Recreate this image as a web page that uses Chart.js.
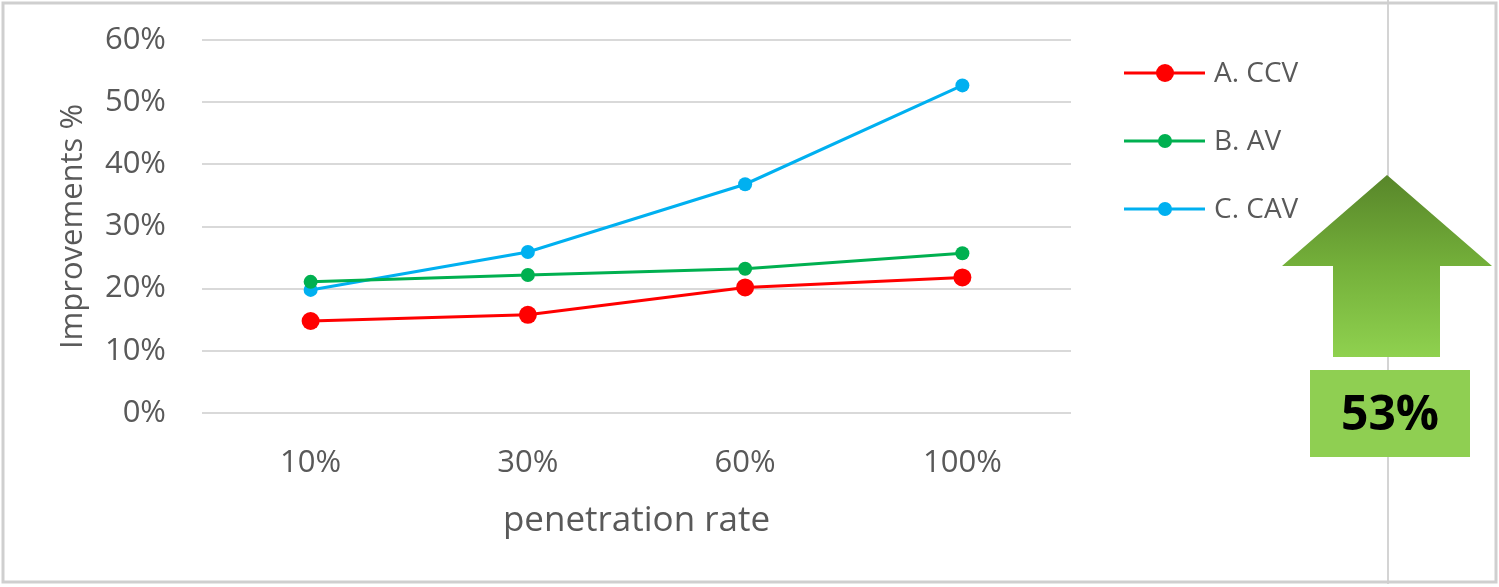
<!DOCTYPE html>
<html lang="en">
<head>
  <meta charset="UTF-8">
  <title>Improvements</title>
  <script src="https://cdn.jsdelivr.net/npm/chart.js"></script>
  <style>
    html, body { margin: 0; padding: 0; background: #fff; }
    #wrap { width: 1499px; height: 587px; position: relative; }
  </style>
</head>
<body>
  <div id="wrap">
    <canvas id="chartMelhoria" width="1499" height="587"></canvas>
  </div>

<script>
  // dados
  const taxas = ['10%', '30%', '60%', '100%'];
  const ccv = [14.8, 15.8, 20.2, 21.8];
  const av = [21.1, 22.2, 23.2, 25.7];
  const cav = [19.8, 25.9, 36.8, 52.7];
  const nomes = ['A. CCV', 'B. AV', 'C. CAV'];

  const fonte = '"Open Sans", "DejaVu Sans", sans-serif';
  const cinzaTexto = '#595959';

  // moldura, legenda e seta verde
  const extras = {
    id: 'extras',
    beforeDraw(chart) {
      const ctx = chart.ctx;
      ctx.save();
      ctx.fillStyle = '#fff';
      ctx.fillRect(0, 0, chart.width, chart.height);
      // linha vertical cinza
      ctx.strokeStyle = '#d4d4d4';
      ctx.lineWidth = 2;
      ctx.beginPath();
      ctx.moveTo(1388, 0);
      ctx.lineTo(1388, 584);
      ctx.stroke();
      // borda
      ctx.strokeStyle = '#cfcfcf';
      ctx.lineWidth = 3;
      ctx.strokeRect(3, 3, 1493, 579);
      ctx.restore();
    },
    afterDraw(chart) {
      const ctx = chart.ctx;
      ctx.save();

      // legenda
      const ys = [73, 141, 209];
      chart.data.datasets.forEach((ds, i) => {
        ctx.strokeStyle = ds.borderColor;
        ctx.lineWidth = 3;
        ctx.beginPath();
        ctx.moveTo(1124, ys[i]);
        ctx.lineTo(1205, ys[i]);
        ctx.stroke();
        ctx.fillStyle = ds.backgroundColor;
        ctx.beginPath();
        ctx.arc(1165, ys[i], ds.pointRadius, 0, Math.PI * 2);
        ctx.fill();
        ctx.fillStyle = cinzaTexto;
        ctx.font = '28px ' + fonte;
        ctx.textBaseline = 'middle';
        ctx.textAlign = 'left';
        ctx.fillText(ds.label, 1214, ys[i] + 1);
      });

      // seta
      const grad = ctx.createLinearGradient(0, 175, 0, 357);
      grad.addColorStop(0, '#58862a');
      grad.addColorStop(0.5, '#74b03a');
      grad.addColorStop(1, '#8fd14f');
      ctx.fillStyle = grad;
      ctx.beginPath();
      ctx.moveTo(1387, 175);
      ctx.lineTo(1492, 266);
      ctx.lineTo(1440, 266);
      ctx.lineTo(1440, 357);
      ctx.lineTo(1333, 357);
      ctx.lineTo(1333, 266);
      ctx.lineTo(1282, 266);
      ctx.closePath();
      ctx.fill();

      // caixa com o ganho
      ctx.fillStyle = '#8fcf52';
      ctx.fillRect(1310, 370, 160, 87);
      const ganho = Math.round(Math.max(...cav));
      ctx.fillStyle = '#000';
      ctx.font = 'bold 48px ' + fonte;
      ctx.textAlign = 'center';
      ctx.textBaseline = 'middle';
      ctx.fillText(ganho + '%', 1390, 416);

      ctx.restore();
    }
  };

  const grafico = document.getElementById('chartMelhoria');

  new Chart(grafico, {
    type: 'line',
    data: {
      labels: taxas,
      datasets: [{
        label: nomes[0],
        data: ccv,
        borderColor: '#ff0000',
        backgroundColor: '#ff0000',
        borderWidth: 3,
        pointRadius: 9,
        pointBorderWidth: 0
      }, {
        label: nomes[1],
        data: av,
        borderColor: '#00b050',
        backgroundColor: '#00b050',
        borderWidth: 3,
        pointRadius: 7,
        pointBorderWidth: 0
      }, {
        label: nomes[2],
        data: cav,
        borderColor: '#00b0f0',
        backgroundColor: '#00b0f0',
        borderWidth: 3,
        pointRadius: 7,
        pointBorderWidth: 0
      }]
    },
    options: {
      responsive: false,
      animation: false,
      devicePixelRatio: 1,
      layout: {
        padding: { left: 51, right: 428, top: 40, bottom: 41 }
      },
      plugins: {
        legend: { display: false },
        tooltip: { enabled: false }
      },
      scales: {
        x: {
          offset: true,
          grid: { display: false, drawTicks: false },
          border: { display: false },
          ticks: {
            color: cinzaTexto,
            font: { family: fonte, size: 31 },
            padding: 32
          },
          title: {
            display: true,
            text: 'penetration rate',
            color: cinzaTexto,
            font: { family: fonte, size: 35 },
            padding: 4
          },
          afterFit: (s) => { s.height = 133; }
        },
        y: {
          min: 0,
          max: 60,
          // espaço entre rótulo e grade via tickLength invisível
          grid: { color: '#d9d9d9', lineWidth: 2, drawTicks: true, tickLength: 36, tickColor: 'rgba(0,0,0,0)' },
          border: { display: false },
          ticks: {
            stepSize: 10,
            color: cinzaTexto,
            font: { family: fonte, size: 31 },
            padding: 0,
            callback: (v) => v + '%'
          },
          title: {
            display: true,
            text: 'Improvements %',
            color: cinzaTexto,
            font: { family: fonte, size: 31 },
            padding: 4
          },
          afterFit: (s) => { s.width = 151; }
        }
      }
    },
    plugins: [extras]
  });
</script>
</body>
</html>
